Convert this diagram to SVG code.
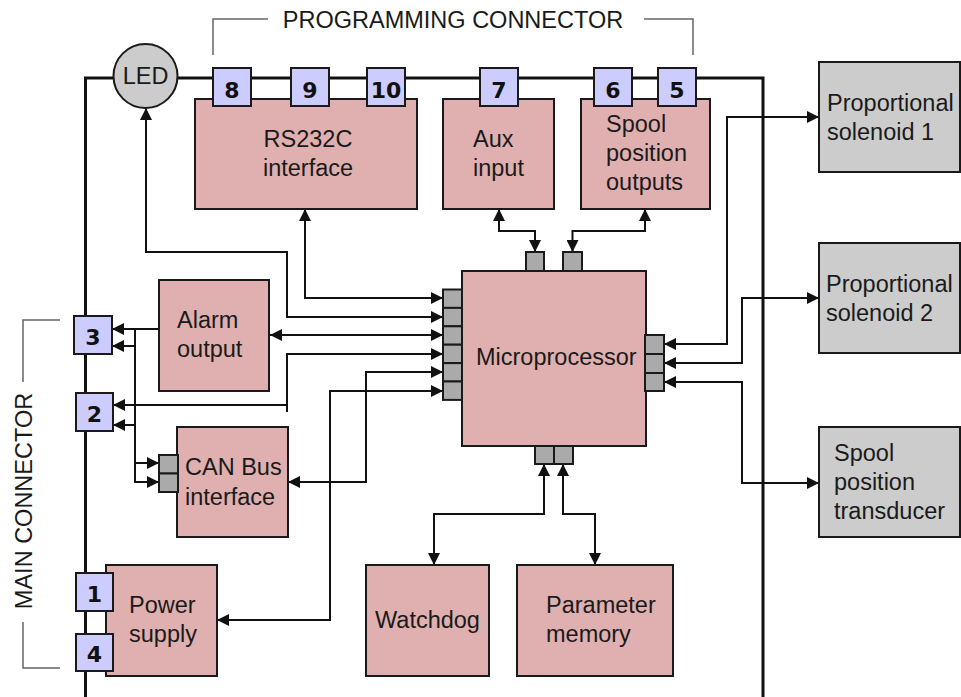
<svg xmlns="http://www.w3.org/2000/svg" width="961" height="697" viewBox="0 0 961 697">
<style>
.box{fill:#e0b0b0;stroke:#1a1a1a;stroke-width:2}
.ext{fill:#cccccc;stroke:#1a1a1a;stroke-width:2}
.pin{fill:#ccccff;stroke:#1a1a1a;stroke-width:2}
.gp{fill:#aaaaaa;stroke:#1a1a1a;stroke-width:2}
.t{font-family:"Liberation Sans",Arial,sans-serif;font-size:23.5px;fill:#1a1a1a}
.n{font-family:"DejaVu Sans",Verdana,sans-serif;font-weight:bold;font-size:22px;fill:#111;text-anchor:middle}
.c{fill:none;stroke:#111;stroke-width:2}
.br{fill:none;stroke:#666;stroke-width:1.5}
</style>
<defs>
<marker id="a" viewBox="0 0 12 12" refX="12" refY="6" markerWidth="12" markerHeight="12" markerUnits="userSpaceOnUse" orient="auto-start-reverse"><path d="M0,0 L12,6 L0,12 z" fill="#111"/></marker>
</defs>
<rect width="961" height="697" fill="#fff"/>
<g id="frame">
<path d="M85.5,697 V78 H763 V697" fill="none" stroke="#111" stroke-width="3"/>
</g>
<g id="brackets">
<path class="br" d="M213,55 V19 H268"/>
<path class="br" d="M644,19 H693 V55"/>
<text class="t" x="453" y="28" text-anchor="middle">PROGRAMMING CONNECTOR</text>
<path class="br" d="M60,320 H23 V382"/>
<path class="br" d="M23,622 V668 H60"/>
<text class="t" transform="translate(31.5,501) rotate(-90)" text-anchor="middle">MAIN CONNECTOR</text>
</g>
<g id="connectors">
<path class="c" d="M443,317 H287 V252 H146 V108" marker-start="url(#a)" marker-end="url(#a)"/>
<path class="c" d="M443,298 H305 V209" marker-start="url(#a)" marker-end="url(#a)"/>
<path class="c" d="M270,335 H443" marker-start="url(#a)" marker-end="url(#a)"/>
<path class="c" d="M443,354 H287 V412" marker-start="url(#a)"/>
<path class="c" d="M287,405 H113" marker-end="url(#a)"/>
<path class="c" d="M443,372 H366 V482 H288" marker-start="url(#a)" marker-end="url(#a)"/>
<path class="c" d="M443,391 H330 V620 H217" marker-start="url(#a)" marker-end="url(#a)"/>
<path class="c" d="M499,209 V231 H535 V252" marker-start="url(#a)" marker-end="url(#a)"/>
<path class="c" d="M645,209 V231 H572.5 V252" marker-start="url(#a)" marker-end="url(#a)"/>
<path class="c" d="M544,464 V514 H434 V565" marker-start="url(#a)" marker-end="url(#a)"/>
<path class="c" d="M563,464 V514 H595 V565" marker-start="url(#a)" marker-end="url(#a)"/>
<path class="c" d="M664,344 H727 V117 H819" marker-start="url(#a)" marker-end="url(#a)"/>
<path class="c" d="M664,363 H742 V298 H819" marker-start="url(#a)" marker-end="url(#a)"/>
<path class="c" d="M664,382 H742 V483 H819" marker-start="url(#a)" marker-end="url(#a)"/>
<path class="c" d="M159,329 H112" marker-end="url(#a)"/>
<path class="c" d="M135,329 V482 H159" marker-end="url(#a)"/>
<path class="c" d="M135,346 H112" marker-end="url(#a)"/>
<path class="c" d="M135,425 H113" marker-end="url(#a)"/>
<path class="c" d="M135,463 H159" marker-end="url(#a)"/>
</g>
<g id="led">
<circle cx="145.5" cy="76" r="32" fill="#cccccc" stroke="#1a1a1a" stroke-width="2"/>
<text class="t" x="145.5" y="84" text-anchor="middle" font-size="21.5">LED</text>
</g>
<g id="rs232c">
<rect class="box" x="195" y="99" width="222" height="110"/>
<text class="t" x="308" y="147" text-anchor="middle">RS232C</text>
<text class="t" x="308" y="176" text-anchor="middle">interface</text>
</g>
<g id="aux">
<rect class="box" x="443" y="99" width="111" height="110"/>
<text class="t" x="473" y="147">Aux</text>
<text class="t" x="473" y="176">input</text>
</g>
<g id="spool-out">
<rect class="box" x="581" y="99" width="129" height="110"/>
<text class="t" x="606" y="132">Spool</text>
<text class="t" x="606" y="161">position</text>
<text class="t" x="606" y="190">outputs</text>
</g>
<g id="pins-top">
<rect class="pin" x="213" y="68" width="38" height="38"/><text class="n" x="232" y="98">8</text>
<rect class="pin" x="291" y="68" width="38" height="38"/><text class="n" x="310" y="98">9</text>
<rect class="pin" x="367" y="68" width="38" height="38"/><text class="n" x="386" y="98">10</text>
<rect class="pin" x="480" y="68" width="38" height="38"/><text class="n" x="499" y="98">7</text>
<rect class="pin" x="594" y="68" width="38" height="38"/><text class="n" x="613" y="98">6</text>
<rect class="pin" x="658" y="68" width="38" height="38"/><text class="n" x="677" y="98">5</text>
</g>
<g id="sol1">
<rect class="ext" x="819" y="62" width="141" height="110"/>
<text class="t" x="827" y="111">Proportional</text>
<text class="t" x="827" y="140">solenoid 1</text>
</g>
<g id="sol2">
<rect class="ext" x="819" y="243" width="141" height="110"/>
<text class="t" x="826" y="292">Proportional</text>
<text class="t" x="826" y="321">solenoid 2</text>
</g>
<g id="transducer">
<rect class="ext" x="819" y="427" width="141" height="110"/>
<text class="t" x="834" y="461">Spool</text>
<text class="t" x="834" y="490">position</text>
<text class="t" x="834" y="519">transducer</text>
</g>
<g id="micro">
<rect class="box" x="462" y="271" width="184" height="175"/>
<text class="t" x="476" y="365">Microprocessor</text>
<rect class="gp" x="526" y="252" width="18" height="19"/>
<rect class="gp" x="563" y="252" width="19" height="19"/>
<rect class="gp" x="535" y="446" width="19" height="18"/>
<rect class="gp" x="554" y="446" width="19" height="18"/>
<rect class="gp" x="443" y="289.5" width="19" height="18.4"/>
<rect class="gp" x="443" y="307.9" width="19" height="18.4"/>
<rect class="gp" x="443" y="326.3" width="19" height="18.4"/>
<rect class="gp" x="443" y="344.7" width="19" height="18.4"/>
<rect class="gp" x="443" y="363.1" width="19" height="18.4"/>
<rect class="gp" x="443" y="381.5" width="19" height="18.4"/>
<rect class="gp" x="645" y="335" width="19" height="19"/>
<rect class="gp" x="645" y="354" width="19" height="19"/>
<rect class="gp" x="645" y="373" width="19" height="18"/>
</g>
<g id="alarm">
<rect class="box" x="159" y="280" width="110" height="111"/>
<text class="t" x="177" y="328">Alarm</text>
<text class="t" x="177" y="357">output</text>
</g>
<g id="can">
<rect class="box" x="177" y="427" width="111" height="110"/>
<rect class="gp" x="159" y="455" width="19" height="18.5"/>
<rect class="gp" x="159" y="473.5" width="19" height="18.5"/>
<text class="t" x="185" y="475">CAN Bus</text>
<text class="t" x="185" y="505">interface</text>
</g>
<g id="power">
<rect class="box" x="106" y="565" width="111" height="111"/>
<text class="t" x="129" y="613">Power</text>
<text class="t" x="129" y="642">supply</text>
</g>
<g id="watchdog">
<rect class="box" x="366" y="565" width="123" height="111"/>
<text class="t" x="375" y="628">Watchdog</text>
</g>
<g id="param">
<rect class="box" x="517" y="565" width="156" height="111"/>
<text class="t" x="546" y="613">Parameter</text>
<text class="t" x="546" y="642">memory</text>
</g>
<g id="pins-main">
<rect class="pin" x="74" y="316" width="38" height="38"/><text class="n" x="93" y="345">3</text>
<rect class="pin" x="76" y="393" width="37" height="38"/><text class="n" x="94.5" y="422">2</text>
<rect class="pin" x="76" y="573" width="37" height="38"/><text class="n" x="94.5" y="602">1</text>
<rect class="pin" x="76" y="634" width="37" height="37"/><text class="n" x="94.5" y="662">4</text>
</g>
</svg>
